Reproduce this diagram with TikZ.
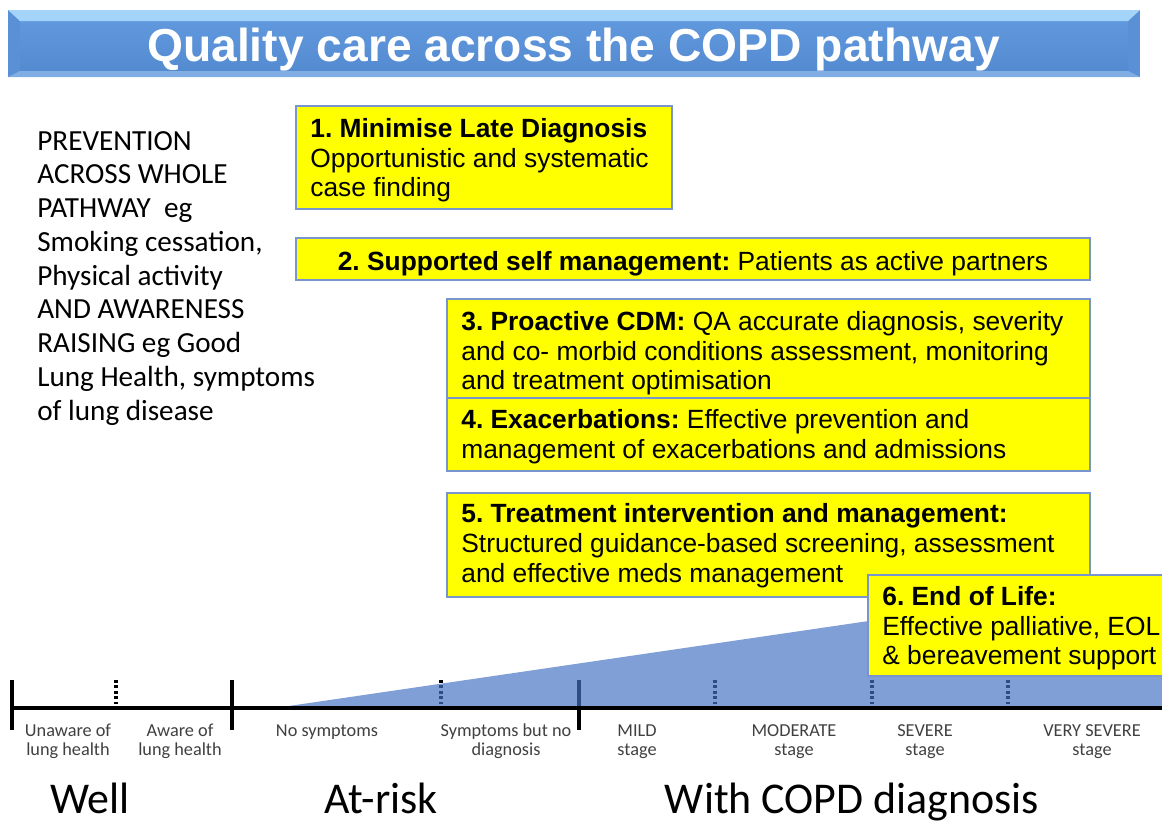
\documentclass[tikz,border=0pt]{standalone}
\usepackage{fontspec}
\setmainfont{Liberation Sans}
\newfontfamily\calfont{Carlito}
\frenchspacing

\definecolor{boxyellow}{RGB}{255,255,0}
\definecolor{boxline}{RGB}{120,150,205}
\definecolor{wedgeblue}{RGB}{68,114,196}
\definecolor{stagegray}{RGB}{64,64,64}
\definecolor{bannerlight}{RGB}{165,212,250}
\definecolor{bannerface}{RGB}{96,152,222}
\definecolor{bannerdark}{RGB}{84,138,208}
\definecolor{bannerside}{RGB}{90,144,214}

\newcommand\firstline[1][12pt]{\rule{0pt}{#1}}

\begin{document}
\begin{tikzpicture}[x=0.02cm, y=-0.02cm,
    box/.style={draw=boxline, fill=boxyellow, line width=0.7pt},
    boxtext/.style={anchor=north west, inner sep=0pt, align=left, font=\fontsize{15}{17}\selectfont},
    tick/.style={line width=2pt},
    stagedots/.style={line width=1.8pt, dash pattern=on 1.5pt off 1.6pt},
    stagelabel/.style={anchor=north, inner sep=0pt, align=center, text=stagegray, font=\calfont\fontsize{10.4}{10.8}\selectfont},
    phase/.style={anchor=base, inner sep=0pt, font=\calfont\fontsize{25}{30}\selectfont}]
  \useasboundingbox (0,0) rectangle (1162,822);
  \clip (0,0) rectangle (1162,822);

  % Title banner
  \fill[bannerside] (8,10) rectangle (1140,77);
  \fill[top color=bannerface, bottom color=bannerdark] (20,21) rectangle (1128,71);
  \fill[bannerlight] (8,10) -- (1140,10) -- (1128,21) -- (20,21) -- cycle;
  \fill[bannerface!80!white] (8,77) -- (1140,77) -- (1128,71) -- (20,71) -- cycle;
  \node[anchor=base, inner sep=0pt, text=white, font=\bfseries\fontsize{26.3}{30}\selectfont] (title) at (573.5,61) {Quality care across the COPD pathway};

  % Prevention text
  \node[boxtext, font=\calfont\fontsize{16.6}{19.2}\selectfont] (prevention) at (37,128.8)
    {\firstline PREVENTION\\ACROSS WHOLE\\PATHWAY~~eg\\Smoking cessation,\\Physical activity\\AND AWARENESS\\RAISING eg Good\\Lung Health, symptoms\\of lung disease};

  % Timeline ticks
  \draw[tick] (12,680) -- (12,730);
  \draw[tick] (232,680) -- (232,730);
  \draw[tick] (579,680) -- (579,730);
  \foreach \xs in {116,441,715,872,1008}
    \draw[stagedots] (\xs,680) -- (\xs,704);

  % Severity wedge
  \fill[wedgeblue, opacity=0.68] (275,708) -- (1162,578) -- (1162,708) -- cycle;
  \draw[tick] (10,708) -- (1162,708);

  % Quality boxes
  \draw[box] (296,106) rectangle (672,209);
  \node[boxtext] (late) at (310,115.8)
    {\firstline\textbf{1. Minimise Late Diagnosis}\\Opportunistic and systematic\\case finding};
  \draw[box] (296,238) rectangle (1090,280);
  \node[boxtext, anchor=north] (selfman) at (693,248.8)
    {\firstline\textbf{2. Supported self management:} Patients as active partners};
  \draw[box] (447,299) rectangle (1090,398);
  \node[boxtext] (cdm) at (461,308.8)
    {\firstline\textbf{3. Proactive CDM:} QA accurate diagnosis, severity\\and co- morbid conditions assessment, monitoring\\and treatment optimisation};
  \draw[box] (447,398) rectangle (1090,471);
  \node[boxtext] (exac) at (461,407.3)
    {\firstline\textbf{4. Exacerbations:} Effective prevention and\\management of exacerbations and admissions};
  \draw[box] (447,493) rectangle (1090,597);
  \node[boxtext] (treat) at (461,501.3)
    {\firstline\textbf{5. Treatment intervention and management:}\\Structured guidance-based screening, assessment\\and effective meds management};
  \draw[box] (868,575) rectangle (1175,676);
  \node[boxtext] (eol) at (882,583.8)
    {\firstline\textbf{6. End of Life:}\\Effective palliative, EOL\\\& bereavement support};

  % Stage labels
  \node[stagelabel] (unaware) at (68,722) {\firstline[8pt]Unaware of\\lung health};
  \node[stagelabel] (aware) at (180,722) {\firstline[8pt]Aware of\\lung health};
  \node[stagelabel] (nosym) at (327,722) {\firstline[8pt]No symptoms};
  \node[stagelabel] (sym) at (506,722) {\firstline[8pt]Symptoms but no\\diagnosis};
  \node[stagelabel] (mild) at (637,722) {\firstline[8pt]MILD\\stage};
  \node[stagelabel] (moderate) at (794,722) {\firstline[8pt]MODERATE\\stage};
  \node[stagelabel] (severe) at (925,722) {\firstline[8pt]SEVERE\\stage};
  \node[stagelabel] (vsevere) at (1092,722) {\firstline[8pt]VERY SEVERE\\stage};

  % Phases
  \node[phase] (well) at (90,813) {Well};
  \node[phase] (atrisk) at (381,813) {At-risk};
  \node[phase] (withcopd) at (852,813) {With COPD diagnosis};
\end{tikzpicture}
\end{document}
